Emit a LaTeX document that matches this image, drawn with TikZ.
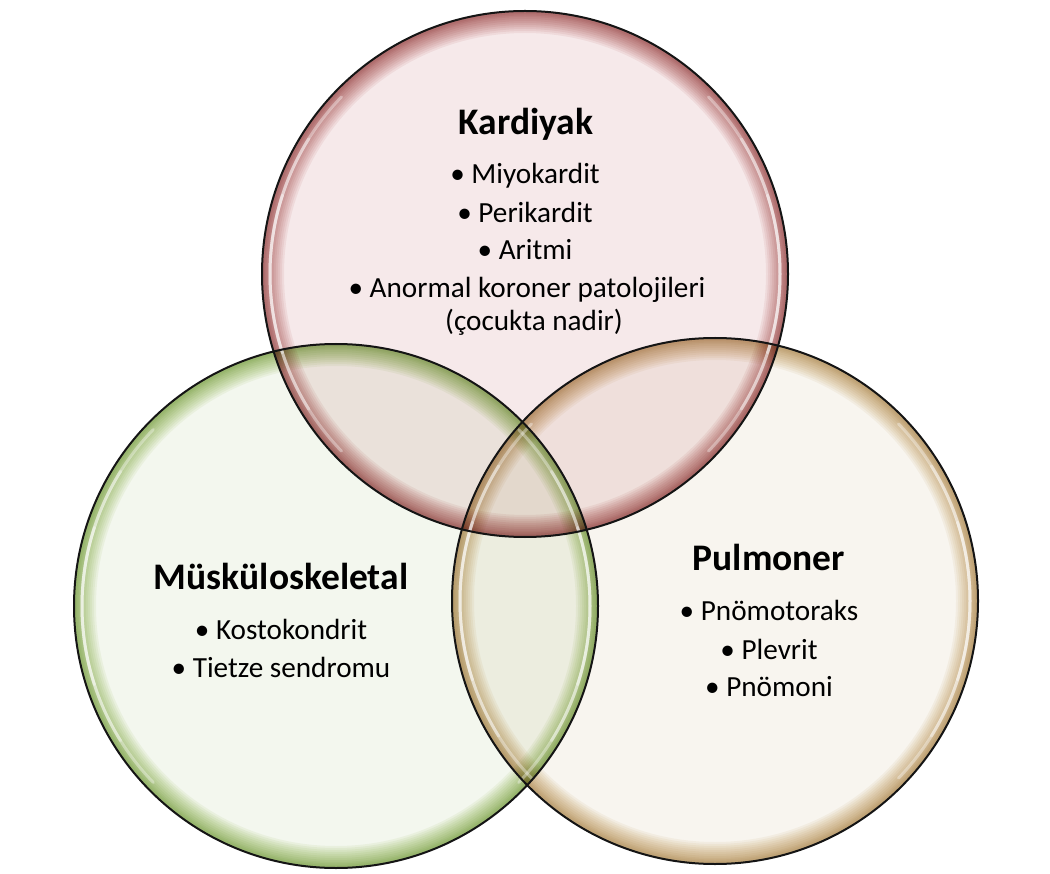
\documentclass[tikz,border=0pt]{standalone}
\usepackage{fontspec}
\setmainfont{Carlito}
\definecolor{kardin}{HTML}{F6E9EA}
\definecolor{kardout}{HTML}{B04E4C}
\definecolor{muskin}{HTML}{F3F7EE}
\definecolor{muskout}{HTML}{92B84A}
\definecolor{pulmin}{HTML}{F8F5EF}
\definecolor{pulmout}{HTML}{C6A05A}
\tikzset{
  titletext/.style={anchor=base, font=\fontsize{37.5}{44}\selectfont\bfseries, inner sep=0pt},
  itemtext/.style={anchor=base, font=\fontsize{29.2}{34}\selectfont, inner sep=0pt},
  ring/.style={draw=black!92, line width=2pt},
  glow/.style={draw=#1, opacity=0.09},
  gloss/.style={draw=white, line width=3pt, opacity=0.36, line cap=round}
}
\begin{document}
\begin{tikzpicture}[x=1pt,y=-1pt]
\useasboundingbox (0,0) rectangle (1050,874);
\fill[white] (0,0) rectangle (1050,874);
\coordinate (K) at (525,274);
\coordinate (M) at (336,606);
\coordinate (P) at (715,601);
\begin{scope}[blend group=multiply]
  \foreach \c/\r/\ci/\co in {K/263/kardin/kardout, M/262/muskin/muskout, P/263/pulmin/pulmout}{
    \fill[\ci] (\c) circle[radius=\r];
    \begin{scope}
      \clip (\c) circle[radius=\r];
      \foreach \w in {44,40,36,32,28,24,20,16,12,9,6}{
        \draw[glow=\co, line width=\w pt] (\c) circle[radius=\r];
      }
    \end{scope}
  }
\end{scope}
% glossy highlights
\foreach \c/\r in {K/255, M/254, P/255}{
  \foreach \a in {18,32,44}{
    \draw[gloss] (\c) ++(180-\a:\r) arc[start angle=180-\a, end angle=180+\a, radius=\r];
    \draw[gloss] (\c) ++(-\a:\r) arc[start angle=-\a, end angle=\a, radius=\r];
  }
}
% outlines
\draw[ring] (K) circle[radius=263];
\draw[ring] (M) circle[radius=262];
\draw[ring] (P) circle[radius=263];
% Kardiyak
\node[titletext] (kt) at (526,135) {Kardiyak};
\node[itemtext] (k1) at (525,184) {•~Miyokardit};
\node[itemtext] (k2) at (525,223) {•~Perikardit};
\node[itemtext] (k3) at (525,260) {•~Aritmi};
\node[itemtext] (k4) at (527,298) {•~Anormal koroner patolojileri};
\node[itemtext] (k5) at (534,331) {(çocukta nadir)};
% Muskuloskeletal
\node[titletext] (mt) at (281,589) {Müsküloskeletal};
\node[itemtext] (m1) at (281,639) {•~Kostokondrit};
\node[itemtext] (m2) at (281,677) {•~Tietze sendromu};
% Pulmoner
\node[titletext] (pt) at (769,570) {Pulmoner};
\node[itemtext] (p1) at (769,620) {•~Pnömotoraks};
\node[itemtext] (p2) at (769,659) {•~Plevrit};
\node[itemtext] (p3) at (769,696) {•~Pnömoni};
\end{tikzpicture}
\end{document}
